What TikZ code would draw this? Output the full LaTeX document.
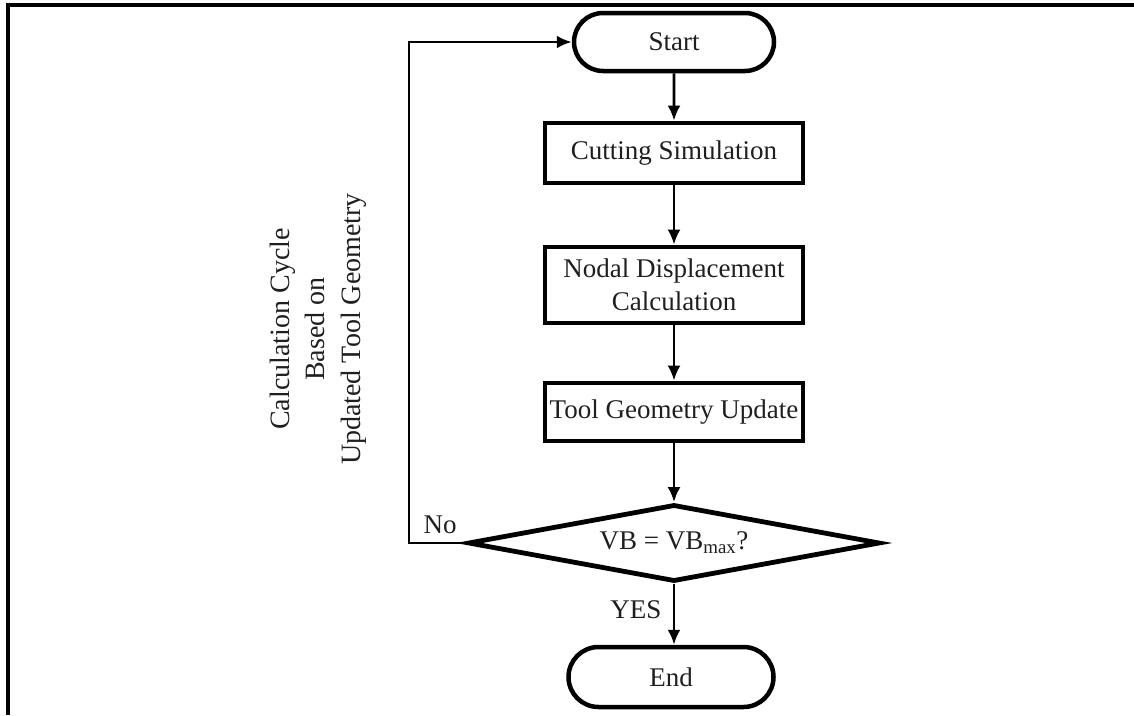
\documentclass[tikz,border=0pt]{standalone}
\usepackage{fontspec}
\setmainfont{Liberation Serif}
\usetikzlibrary{shapes.misc,shapes.geometric,arrows.meta}
\begin{document}
\begin{tikzpicture}[x=1pt,y=-1pt,
  every node/.style={font=\fontsize{27}{35}\selectfont, text=black!88},
  terminal/.style={rounded rectangle, draw, line width=4.5pt, minimum width=200pt, minimum height=58pt, inner sep=0pt},
  process/.style={rectangle, draw, line width=4.8pt, minimum width=258pt, inner sep=0pt, align=center},
  decision/.style={diamond, aspect=5.35, draw, line width=4.8pt, minimum width=412pt, minimum height=77pt, inner sep=0pt},
  arr/.style={line width=2.7pt, -{Latex[length=15pt,width=13pt]}},
  frame/.style={line width=3.2pt}]
\useasboundingbox (0,0) rectangle (1134,715);

% open frame: top and left edges only
\coordinate (ftl) at (8,5);
\coordinate (ftr) at (1134,5);
\coordinate (fbl) at (8,715);
\draw[frame] (ftr) -- (ftl) -- (fbl);

% flowchart nodes
\node[terminal] (start) at (674,42) {Start};
\node[process, minimum height=60pt] (cut) at (674,153) {Cutting Simulation};
\node[process, minimum height=76pt] (nodal) at (674,285) {Nodal Displacement\\[-2pt]Calculation};
\node[process, minimum height=58pt] (tool) at (674,412) {Tool Geometry Update};
\node[decision] (dec) at (674,543) {VB = VB\textsubscript{max}?};
\node[terminal, minimum width=205pt, minimum height=60pt] (stop) at (671,677) {End};

% main flow
\draw[arr] (start) -- (cut);
\draw[arr] (cut) -- (nodal);
\draw[arr] (nodal) -- (tool);
\draw[arr] (tool) -- (dec);
\draw[arr] (dec.south) -- node[left=8pt, pos=0.42] (yes) {YES} (dec.south |- stop.north);

% feedback loop
\coordinate (loopx) at (409,0);
\draw[arr] (dec.west) -- (dec.west -| loopx) |- (start.west);
\node (no) at (440,525) {No};
\node[rotate=90, align=center, font=\fontsize{28}{35.5}\selectfont] (cycle) at (318,329) {Calculation Cycle\\Based on\\Updated Tool Geometry};
\end{tikzpicture}
\end{document}
